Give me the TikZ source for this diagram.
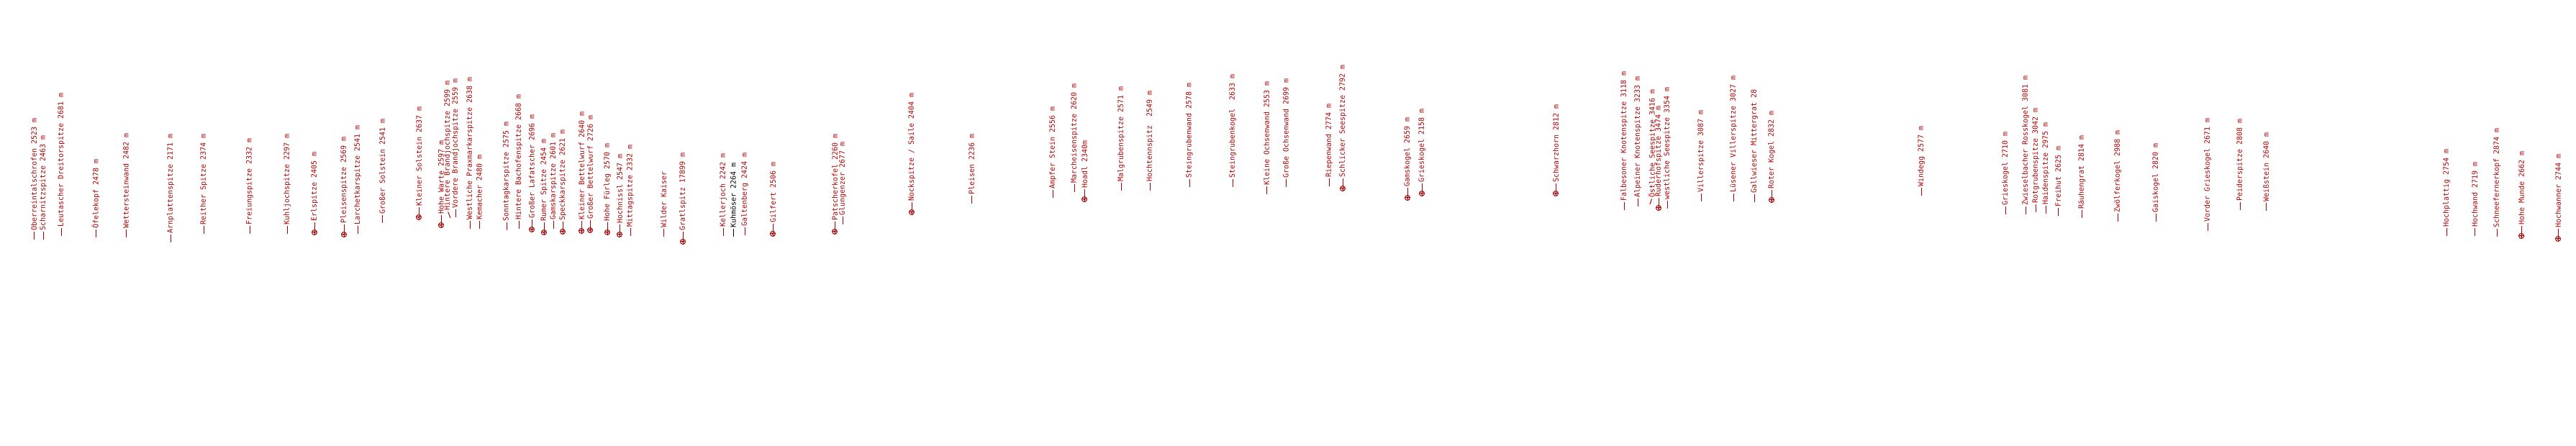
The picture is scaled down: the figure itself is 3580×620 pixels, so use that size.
\documentclass[tikz,border=0pt]{standalone}
\usepackage{fontspec}
\newfontfamily\lblfont{DejaVu Sans Mono}
\definecolor{peakred}{RGB}{170,0,0}
\newcommand{\peak}[5][peakred]{%
  \coordinate (#2) at (#3,#4);
  \node[peak label, text=#1] (#2 text) at (#3,#4-12) {#5};
  \draw[leader, draw=#1] (#2) -- (#2 text.west);}
\newcommand{\summit}[4]{%
  \coordinate (#1) at (#2,#3);
  \draw[leader] (#1) circle[radius=3.5];
  \draw[leader] ([xshift=-4.5pt]#1) -- ([xshift=4.5pt]#1);
  \draw[leader] ([yshift=-4.5pt]#1) -- ([yshift=4.5pt]#1);
  \fill[peakred] (#1) circle[radius=1.3];
  \node[peak label] (#1 text) at (#2,#3-15) {#4};
  \draw[leader, shorten <=4pt] (#1) -- (#1 text.west);}

\begin{document}
\begin{tikzpicture}[x=1pt, y=-1pt]
          \tikzset{peak label/.style={rotate=90, anchor=west, inner sep=0pt, text=peakred, font=\lblfont\fontsize{10}{10}\selectfont},
                   leader/.style={draw=peakred, line width=1pt, shorten >=1.5pt}}
          \useasboundingbox (0,0) rectangle (3580,620);
          \peak{oberrein}{47}{333}{Oberreintalschrofen 2523 m}
          \peak{scharnitz}{60}{333}{Scharnitzspitze 2463 m}
          \peak{leutasch}{85}{328}{Leutascher Dreitorspitze 2681 m}
          \peak{oefele}{133}{330}{Öfelekopf 2478 m}
          \peak{wetterst}{175}{330}{Wettersteinwand 2482 m}
          \peak{arnplatt}{237}{337}{Arnplattenspitze 2171 m}
          \peak{reither}{283}{325}{Reither Spitze 2374 m}
          \peak{freiung}{347}{325}{Freiungspitze 2332 m}
          \peak{kuhljoch}{399}{325}{Kuhljochspitze 2297 m}
          \summit{erl}{437}{323}{Erlspitze 2405 m}
          \summit{pleisensp}{478}{326}{Pleisenspitze 2569 m}
          \peak{larchet}{497}{325}{Larchetkarspitze 2541 m}
          \peak{grsolst}{531}{310}{Großer Solstein 2541 m}
          \summit{klsolst}{582}{302}{Kleiner Solstein 2637 m}
          \summit{hwarte}{613}{313}{Hohe Warte 2597 m}
          \coordinate (hbrand) at (626,303);
          \node[peak label] (hbrand text) at (622,293) {Hintere Brandjochspitze 2599 m};
          \draw[leader] (hbrand) -- (hbrand text.west);
          \peak{vbrand}{633}{302}{Vordere Brandjochspitze 2559 m}
          \peak{praxmar}{653}{318}{Westliche Praxmarkarspitze 2638 m}
          \peak{kemacher}{666}{318}{Kemacher 2480 m}
          \peak{sonntag}{704}{320}{Sonntagkarspitze 2575 m}
          \peak{bachofen}{721}{318}{Hintere Bachofenspitze 2668 m}
          \summit{lafatsch}{739}{319}{Großer Lafatscher 2696 m}
          \summit{rumer}{756}{323}{Rumer Spitze 2454 m}
          \peak{gamskar}{769}{318}{Gamskarspitze 2601 m}
          \summit{speckkar}{782}{322}{Speckkarspitze 2621 m}
          \summit{klbettel}{808}{321}{Kleiner Bettelwurf 2640 m}
          \summit{grbettel}{820}{320}{Großer Bettelwurf 2726 m}
          \summit{fuerleg}{844}{323}{Hohe Fürleg 2570 m}
          \summit{hochnissl}{861}{326}{Hochnissl 2547 m}
          \peak{mittag}{876}{328}{Mittagspitze 2332 m}
          \peak{wkaiser}{922}{329}{Wilder Kaiser}
          \summit{gratl}{949}{336}{Gratlspitz 17899 m}
          \peak{kellerj}{1005}{328}{Kellerjoch 2242 m}
          \peak[black]{kuhmoes}{1019}{329}{Kuhmöser 2264 m}
          \peak{galten}{1035}{327}{Galtenberg 2424 m}
          \summit{gilfert}{1074}{325}{Gilfert 2506 m}
          \summit{patscher}{1160}{322}{Patscherkofel 2260 m}
          \peak{glungen}{1171}{312}{Glungenzer 2677 m}
          \summit{nock}{1267}{295}{Nockspitze / Saile 2404 m}
          \peak{pleisen}{1350}{283}{Pleisen 2236 m}
          \peak{ampfer}{1463}{275}{Ampfer Stein 2556 m}
          \peak{marcheis}{1493}{267}{Marcheisenspitze 2620 m}
          \summit{hoadl}{1507}{277}{Hoadl 2340m}
          \peak{malgrub}{1558}{265}{Malgrubenspitze 2571 m}
          \peak{hochtenn}{1598}{265}{Hochtennspitz~ 2549 m}
          \peak{steinwand}{1653}{260}{Steingrubenwand 2578 m}
          \peak{steinkogel}{1713}{260}{Steingrubenkogel~ 2633 m}
          \peak{klochsen}{1760}{270}{Kleine Ochsenwand 2553 m}
          \peak{grochsen}{1787}{260}{Große Ochsenwand 2699 m}
          \peak{riepen}{1847}{259}{Riepenwand 2774 m}
          \summit{schlick}{1866}{262}{Schlicker Seespitze 2792 m}
          \summit{gamskogel}{1956}{275}{Gamskogel 2659 m}
          \summit{grieskA}{1976}{269}{Grieskogel 2158 m}
          \summit{schwarz}{2162}{269}{Schwarzhorn 2812 m}
          \peak{falbes}{2257}{292}{Falbesoner Knotenspitze 3118 m}
          \peak{alpein}{2276}{287}{Alpeiner Knotenspitze 3233 m}
          \coordinate (oseesp) at (2293,284);
          \node[peak label] (oseesp text) at (2296,275) {Östliche Seespitze 3416 m};
          \draw[leader] (oseesp) -- (oseesp text.west);
          \summit{ruderhof}{2305}{289}{Ruderhofspitze 3474 m}
          \peak{wseesp}{2317}{290}{westliche Seespitze 3354 m}
          \peak{viller}{2364}{280}{Villerspitze 3087 m}
          \peak{luesen}{2409}{280}{Lüsener Villerspitze 3027 m}
          \peak{gallw}{2438}{281}{Gallwieser Mittergrat 28}
          \summit{roterk}{2462}{278}{Roter Kogel 2832 m}
          \peak{windegg}{2670}{272}{Windegg 2577 m}
          \peak{grieskB}{2787}{298}{Grieskogel 2710 m}
          \peak{zwiesel}{2815}{298}{Zwieselbacher Rosskogel 3081 m}
          \peak{rotgrub}{2829}{295}{Rotgrubenspitze 3042 m}
          \peak{haiden}{2843}{297}{Haidenspitze 2975 m}
          \peak{freihut}{2860}{300}{Freihut 2625 m}
          \peak{raeuhen}{2893}{303}{Räuhengrat 2814 m}
          \peak{zwoelfer}{2943}{308}{Zwölferkogel 2988 m}
          \peak{gaisk}{2996}{308}{Gaiskogel 2820 m}
          \peak{vgries}{3068}{321}{Vorder Grieskogel 2671 m}
          \peak{peider}{3113}{292}{Peiderspitze 2808 m}
          \peak{weiss}{3149}{293}{Weißstein 2640 m}
          \peak{hochplatt}{3400}{328}{Hochplattig 2754 m}
          \peak{hochwand}{3439}{328}{Hochwand 2719 m}
          \peak{schneef}{3470}{329}{Schneefernerkopf 2874 m}
          \summit{hmunde}{3504}{328}{Hohe Munde 2662 m}
          \summit{hochwanner}{3555}{332}{Hochwanner 2744 m}
\end{tikzpicture}
\end{document}
